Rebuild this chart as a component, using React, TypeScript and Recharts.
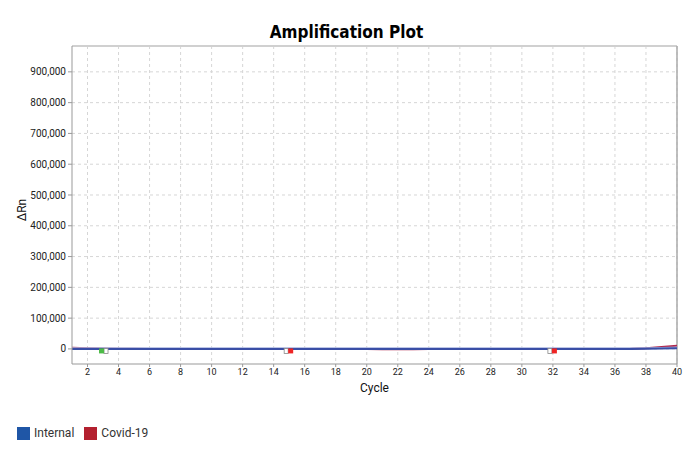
import React from 'react';
import { ComposedChart, Line, Scatter, XAxis, YAxis, CartesianGrid, ReferenceLine } from 'recharts';

const cycles = Array.from({ length: 40 }, (_, i) => i + 1);
const internalDark = [0, 0, 0, 0, 0, 0, 0, 0, 0, 0, 0, 0, 0, 0, 0, 0, 0, 0, 0, 0, 0, 0, 0, 0, 0, 0, 0, 0, 0, 0, 0, 0, 0, 0, 0, 0, 0, 300, 1200, 2500];
const internalLight = [2500, 2400, 2300, 2300, 2200, 2200, 2200, 2200, 2200, 2200, 2200, 2200, 2200, 2200, 2200, 2200, 2200, 2200, 2200, 2200, 2200, 2200, 2200, 2200, 2200, 2200, 2200, 2200, 2200, 2200, 2200, 2200, 2200, 2200, 2200, 2200, 2200, 2400, 3200, 4500];
const covid = [3500, 2500, 1200, 500, 200, 0, 0, 0, 0, 0, 0, 0, 0, 0, 0, 0, 0, 0, 0, -300, -800, -1000, -800, -300, 0, 0, 0, 0, 0, 0, 0, 0, 0, 0, 0, 0, 500, 2500, 6000, 10500];
const markerCycles = [3, 15, 32];
const markerValues = [-6500, -6500, -6500];
const markerKinds = ['green', 'red', 'red'];
const yTicks = [0, 100000, 200000, 300000, 400000, 500000, 600000, 700000, 800000, 900000];
const xTicks = [2, 4, 6, 8, 10, 12, 14, 16, 18, 20, 22, 24, 26, 28, 30, 32, 34, 36, 38, 40];
const legendItems = [
  { name: 'Internal', color: '#1f56a6' },
  { name: 'Covid-19', color: '#b3202f' },
];

const data = cycles.map((c, i) => ({ cycle: c, internalDark: internalDark[i], internalLight: internalLight[i], covid: covid[i] }));
const markers = markerCycles.map((c, i) => ({ cycle: c, value: markerValues[i], kind: markerKinds[i] }));

const Marker = (props: any) => {
  const { cx, cy, payload } = props;
  if (cx == null || cy == null) return null;
  if (payload.kind === 'green') {
    return (
      <g>
        <rect x={cx + 1} y={cy - 2.5} width={4} height={5} fill="#ffffff" stroke="#888" strokeWidth={0.8} />
        <rect x={cx - 4} y={cy - 2.5} width={5} height={5} fill="#4cbb47" />
      </g>
    );
  }
  return (
    <g>
      <rect x={cx - 5} y={cy - 2.5} width={4} height={5} fill="#ffffff" stroke="#888" strokeWidth={0.8} />
      <rect x={cx - 1} y={cy - 2.5} width={5} height={5} fill="#ee2424" />
    </g>
  );
};

const fmt = (v: number) => v.toLocaleString('en-US');

const YLabel = () => (
  <text x={26} y={210} transform="rotate(-90 26 210)" textAnchor="middle" fontSize={12} fill="#111" fontFamily="Roboto">
    ΔRn
  </text>
);

export default function App() {
  return (
    <div style={{ position: 'absolute', left: 0, top: 0, width: 693, height: 450, background: '#fff', fontFamily: 'Roboto, sans-serif' }}>
      <div style={{ position: 'absolute', left: 0, top: 22, width: 693, textAlign: 'center', fontFamily: '"DejaVu Sans Condensed", "DejaVu Sans", sans-serif', fontStretch: 'condensed', fontWeight: 'bold', fontSize: 17, color: '#000' }}>
        Amplification Plot
      </div>
      <ComposedChart width={693} height={450} data={data} margin={{ top: 46, right: 16, bottom: 46, left: 0 }}>
        <CartesianGrid stroke="#d6d6d6" strokeDasharray="3 3" horizontalValues={yTicks} verticalValues={xTicks} />
        <XAxis
          dataKey="cycle"
          type="number"
          domain={[1, 40]}
          ticks={xTicks}
          interval={0}
          allowDataOverflow
          height={40}
          stroke="#999"
          tickSize={3}
          tick={{ fontSize: 9, fill: '#222', fontFamily: 'Roboto' }}
          label={{ value: 'Cycle', position: 'insideBottom', offset: 12, fontSize: 12, fill: '#111', fontFamily: 'Roboto' }}
        />
        <YAxis
          type="number"
          domain={[-49000, 984000]}
          ticks={yTicks}
          allowDataOverflow
          width={72}
          stroke="#999"
          tickSize={4}
          tickFormatter={fmt}
          tick={{ fontSize: 10, fill: '#222', fontFamily: 'Roboto' }}
          label={{ content: () => <YLabel /> }}
        />
        <ReferenceLine y={984000} stroke="#d0d0d0" strokeWidth={2} />
        <ReferenceLine x={40} stroke="#aaaaaa" strokeWidth={1.5} />
        <Line dataKey="covid" stroke="#b0284e" strokeWidth={2} dot={false} isAnimationActive={false} />
        <Line dataKey="internalLight" stroke="#a8b4e0" strokeWidth={2} dot={false} isAnimationActive={false} />
        <Line dataKey="internalDark" stroke="#3a4ea6" strokeWidth={2} dot={false} isAnimationActive={false} />
        <Scatter data={markers} dataKey="value" shape={<Marker />} isAnimationActive={false} />
      </ComposedChart>
      <div style={{ position: 'absolute', left: 17, top: 426, display: 'flex', alignItems: 'center', fontSize: 12, color: '#333', fontFamily: 'Roboto' }}>
        {legendItems.map((it) => (
          <div key={it.name} style={{ display: 'flex', alignItems: 'center', marginRight: 10 }}>
            <span style={{ display: 'inline-block', width: 13, height: 13, background: it.color, marginRight: 4 }} />
            <span>{it.name}</span>
          </div>
        ))}
      </div>
    </div>
  );
}
